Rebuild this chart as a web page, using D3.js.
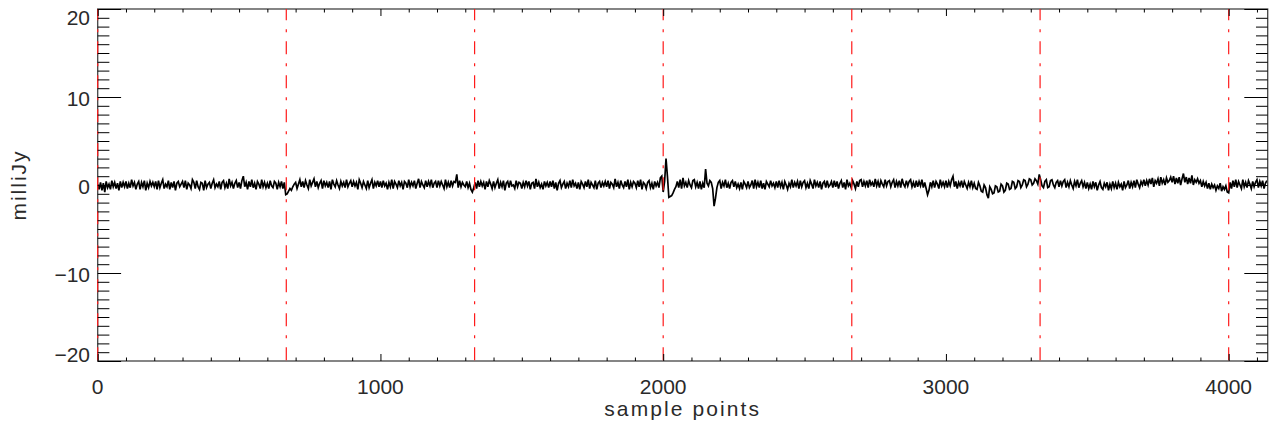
<!DOCTYPE html>
<html>
<head>
<meta charset="utf-8">
<script src="https://cdn.jsdelivr.net/npm/d3@7"></script>
<style>
html,body{margin:0;padding:0;background:#fff;}
svg{display:block;}
text{font-family:"Liberation Sans",Arial,sans-serif;fill:#2a2a2a;}
</style>
</head>
<body>
<svg id="chart" width="1273" height="430"></svg>
<script>
// ---- data ----
const sampleStep = 5; // samples between successive values
const fluxValues = [
 0.1,-0.5,0.3,-0.6,0.2,-0.8,0.4,-0.3,0.1,-0.5,0.5,-0.2,0.3,-0.4,0.2,-0.6,0.4,-0.3,0.3,-0.2,
 0.4,-0.4,0.2,-0.3,0.6,-0.1,0.3,-0.5,0.1,0.4,-0.5,0.3,-0.2,0.5,-0.6,0.2,-0.3,0.4,-0.1,0.3,
 -0.2,0.4,-0.5,0.5,-0.3,0.2,0.6,-0.4,0.1,-0.2,0.5,-0.5,0.3,-0.3,0.4,-0.6,0.2,0.4,-0.2,0.1,
 0.4,-0.3,0.5,-0.5,0.2,0.0,-0.4,0.6,0.3,-0.4,0.5,-0.2,-0.5,0.3,0.2,-0.6,0.5,-0.3,0.1,0.3,
 -0.4,0.2,0.6,-0.3,0.1,-0.2,0.4,-0.5,0.3,0.5,-0.3,0.2,-0.4,0.7,-0.1,0.3,-0.4,0.2,0.5,-0.3,
 0.3,-0.4,0.5,1.0,-0.2,0.3,-0.5,0.4,-0.2,0.6,-0.3,0.2,-0.5,0.4,0.1,-0.4,0.6,-0.2,0.3,-0.3,
 0.2,-0.4,0.5,-0.1,-0.3,0.4,0.2,-0.5,0.3,-0.2,0.4,-0.4,0.3,-1.1,-1.0,-0.7,-0.4,-0.6,-0.2,0.1,
 0.3,-0.4,0.1,0.6,-0.2,0.4,-0.3,0.5,0.0,-0.4,0.6,-0.1,0.3,0.7,-0.2,0.4,-0.3,0.2,0.5,-0.4,
 0.5,-0.1,0.3,-0.3,0.4,-0.5,0.6,0.1,-0.2,0.5,0.0,-0.4,0.4,-0.1,0.3,-0.3,0.6,-0.2,0.2,0.5,
 -0.2,0.4,-0.1,0.3,-0.5,0.6,0.2,-0.3,0.4,0.0,-0.4,0.5,-0.3,0.2,0.6,-0.4,0.3,-0.1,0.5,-0.2,
 0.4,-0.3,0.5,-0.1,0.2,-0.5,0.3,-0.2,0.6,-0.4,0.4,0.1,-0.3,0.5,-0.1,0.3,-0.5,0.4,0.2,-0.3,
 0.6,-0.2,0.3,-0.1,0.5,-0.4,0.2,0.7,-0.3,0.4,0.0,-0.3,0.5,-0.2,0.4,-0.1,0.6,-0.3,0.2,0.4,
 -0.3,0.5,-0.1,0.4,0.0,-0.4,0.6,-0.2,0.3,-0.3,0.5,-0.1,0.4,0.3,1.2,-0.3,0.5,-0.2,0.3,0.0,
 -0.2,0.4,-0.3,0.2,-0.5,-0.8,-0.3,0.3,-0.4,0.5,-0.2,0.4,-0.1,0.3,-0.5,0.4,-0.2,0.5,0.1,-0.4,
 0.4,-0.3,0.2,0.6,-0.4,0.3,-0.2,0.5,-0.6,0.2,0.4,-0.3,0.5,-0.1,0.0,-0.4,0.5,-0.2,0.3,0.2,
 -0.4,0.3,-0.2,0.5,-0.1,0.4,-0.5,0.2,0.3,-0.4,0.7,-0.2,0.3,-0.3,0.1,-0.5,0.4,-0.1,0.3,-0.3,
 0.4,-0.2,0.5,-0.4,0.3,-0.6,0.2,0.5,-0.3,0.1,0.4,-0.4,0.2,-0.2,0.5,-0.3,0.6,-0.1,0.2,-0.4,
 0.3,-0.5,0.4,0.1,-0.3,0.4,-0.2,0.6,-0.4,0.3,0.0,-0.3,0.5,-0.5,0.2,0.4,-0.3,0.3,-0.1,0.4,
 -0.2,0.5,-0.4,0.3,0.1,-0.3,0.7,-0.2,0.3,-0.4,0.5,0.0,-0.3,0.4,-0.2,0.6,-0.5,0.3,-0.2,0.4,
 0.2,-0.3,0.5,-0.2,0.6,-0.5,0.3,0.1,-0.4,0.3,0.5,-0.3,0.2,-0.5,0.4,-0.1,0.3,-0.3,0.8,1.0,
 -0.8,0.4,3.0,1.0,-1.4,-1.3,-1.2,-0.9,-0.5,-0.2,0.4,-0.3,0.6,-0.4,0.8,-0.1,0.3,-0.3,0.5,0.0,
 -0.3,0.5,0.6,-0.2,0.3,-0.4,0.4,-0.5,0.2,-0.3,1.8,0.2,-0.1,0.5,0.3,-0.4,-2.4,-1.5,-0.3,0.3,
 0.5,-0.4,0.3,-0.1,0.6,-0.3,0.2,-0.4,0.3,0.5,-0.2,0.4,-0.3,0.1,-0.4,0.3,-0.5,0.4,0.1,-0.3,
 0.4,-0.3,0.0,0.5,-0.4,0.6,-0.2,0.3,-0.3,0.5,-0.4,0.2,-0.5,0.4,0.1,-0.2,0.5,-0.1,0.2,-0.3,
 0.4,-0.3,0.5,-0.2,0.3,-0.5,0.4,0.0,-0.5,0.2,-0.2,0.6,-0.3,0.3,-0.1,0.4,-0.4,0.5,-0.2,0.3,
 0.5,-0.3,0.2,-0.4,0.5,0.1,-0.4,0.6,-0.1,0.3,-0.3,0.4,-0.5,0.2,0.4,-0.3,0.5,-0.2,0.0,0.4,
 -0.3,0.5,-0.2,0.4,-0.4,0.2,0.5,-0.3,0.3,-0.5,0.6,-0.1,0.2,-0.3,0.5,0.1,-0.4,0.4,-0.2,0.5,
 0.6,-0.2,0.4,-0.1,0.5,-0.3,0.6,0.0,0.3,-0.2,0.7,-0.1,0.4,-0.3,0.5,0.1,-0.2,0.6,-0.1,0.4,
 0.5,-0.2,0.3,0.6,-0.3,0.4,-0.1,0.5,-0.3,0.7,0.1,-0.2,0.5,-0.1,0.4,0.6,-0.2,0.3,-0.3,0.5,
 -0.2,0.4,-0.1,0.6,-0.3,0.3,-0.4,-1.1,-0.6,0.3,-0.2,0.5,-0.3,0.4,0.1,-0.4,0.6,-0.1,0.3,-0.2,
 0.5,-0.3,0.4,-0.1,0.6,1.0,-0.2,0.4,-0.4,0.3,-0.1,0.5,-0.3,0.4,0.0,-0.4,0.3,-0.2,0.5,-0.3,
 0.2,-0.4,-0.5,0.3,-0.1,-0.7,-0.8,0.0,-0.3,-1.1,-1.5,-0.2,-0.5,-1.0,-0.9,-0.1,-0.2,-0.8,-0.7,0.1,
 -0.1,-0.8,-0.6,0.2,0.1,-0.5,-0.4,0.4,0.3,-0.4,-0.2,0.5,0.4,-0.3,0.0,0.6,0.5,-0.2,0.1,0.7,
 0.6,0.0,0.2,0.7,0.5,0.1,1.2,0.6,-0.1,-0.3,0.4,0.6,-0.3,-0.2,0.5,0.6,0.0,-0.3,0.3,0.5,
 -0.2,0.5,-0.1,0.4,0.6,-0.3,0.3,-0.2,0.5,0.0,-0.4,0.4,-0.1,0.6,-0.3,0.2,0.5,-0.2,0.3,-0.4,
 0.3,-0.4,0.1,-0.5,0.4,-0.2,0.3,-0.6,0.0,0.4,-0.3,-0.5,0.2,-0.2,0.3,-0.6,0.1,-0.4,0.4,-0.3,
 0.2,-0.5,0.3,-0.2,0.1,-0.6,0.4,-0.3,0.0,0.5,-0.4,0.3,-0.2,0.5,-0.3,0.6,0.1,-0.3,0.4,0.0,
 0.6,-0.1,0.5,0.0,0.7,0.1,0.8,-0.2,0.5,0.2,0.7,-0.1,0.9,0.2,0.6,0.0,0.8,0.3,0.5,0.9,
 0.3,1.0,0.1,0.8,0.2,0.9,0.0,0.7,1.3,0.3,0.9,0.1,0.8,0.2,1.1,0.0,0.6,0.3,0.7,0.2,
 0.5,-0.2,0.4,-0.1,0.3,-0.4,0.2,-0.5,0.1,-0.3,0.0,-0.6,-0.1,-0.4,0.2,-0.7,-0.2,-0.5,-0.1,-0.8,
 -0.9,0.3,-0.4,0.5,-0.2,0.6,-0.3,0.4,0.0,-0.4,0.6,-0.2,0.3,-0.3,0.5,0.1,-0.4,0.4,-0.2,0.3,
 0.6,-0.3,0.4,-0.1,0.5,-0.4,0.2,0.5
];
const boundaries = [0, 667, 1333, 2000, 2667, 3333, 4000];
const xMajorTicks = [0, 1000, 2000, 3000, 4000];
const yMajorTicks = [-20, -10, 0, 10, 20];
const xTickLabels = ["0", "1000", "2000", "3000", "4000"];
const yTickLabels = ["\u221220", "\u221210", "0", "10", "20"];
const xDomain = [0, 4138];
const yDomain = [-20, 20];
const xTitle = "sample points";
const yTitle = "milliJy";

// ---- layout ----
const L = 97.7, R = 1267.7, T = 9, B = 361;
const svg = d3.select("#chart");
const x = d3.scaleLinear().domain(xDomain).range([L, R]);
const y = d3.scaleLinear().domain(yDomain).range([B, T]);

// data trace
const line = d3.line().x((d, i) => x(i * sampleStep)).y(d => y(d));
svg.append("path").datum(fluxValues)
  .attr("d", line)
  .attr("fill", "none")
  .attr("stroke", "#000")
  .attr("stroke-width", 1.7)
  .attr("stroke-linejoin", "miter");

// frame
svg.append("rect").attr("x", L).attr("y", T).attr("width", R - L).attr("height", B - T)
  .attr("fill", "none").attr("stroke", "#444").attr("stroke-width", 1.3);

// red dash-dot boundary lines
svg.append("g").selectAll("line").data(boundaries).join("line")
  .attr("x1", d => x(d)).attr("x2", d => x(d))
  .attr("y1", T).attr("y2", B)
  .attr("stroke", "#ff1a1a").attr("stroke-width", 1.2)
  .attr("stroke-dasharray", "13,9,3,9")
  .attr("stroke-dashoffset", 1.7);

// ticks via d3 axes
const xMinor = d3.range(0, 4101, 100).filter(v => v % 1000 !== 0);
const yMinor = d3.range(-20, 21, 1).filter(v => v % 10 !== 0);
const majX = 7, minX = 3.5, majY = 23.4, minY = 11.7;

function styleAxis(g) {
  g.select(".domain").remove();
  g.selectAll(".tick line").attr("stroke", "#000").attr("stroke-width", 1);
  g.selectAll(".tick text").remove();
}
svg.append("g").attr("transform", `translate(0,${B})`)
  .call(d3.axisBottom(x).tickValues(xMajorTicks).tickSize(-majX)).call(styleAxis);
svg.append("g").attr("transform", `translate(0,${B})`)
  .call(d3.axisBottom(x).tickValues(xMinor).tickSize(-minX)).call(styleAxis);
svg.append("g").attr("transform", `translate(0,${T})`)
  .call(d3.axisTop(x).tickValues(xMajorTicks).tickSize(-majX)).call(styleAxis);
svg.append("g").attr("transform", `translate(0,${T})`)
  .call(d3.axisTop(x).tickValues(xMinor).tickSize(-minX)).call(styleAxis);
svg.append("g").attr("transform", `translate(${L},0)`)
  .call(d3.axisLeft(y).tickValues(yMajorTicks).tickSize(-majY)).call(styleAxis);
svg.append("g").attr("transform", `translate(${L},0)`)
  .call(d3.axisLeft(y).tickValues(yMinor).tickSize(-minY)).call(styleAxis);
svg.append("g").attr("transform", `translate(${R},0)`)
  .call(d3.axisRight(y).tickValues(yMajorTicks).tickSize(-majY)).call(styleAxis);
svg.append("g").attr("transform", `translate(${R},0)`)
  .call(d3.axisRight(y).tickValues(yMinor).tickSize(-minY)).call(styleAxis);

// tick labels
const fs = 21;
svg.append("g").selectAll("text").data(xMajorTicks).join("text")
  .attr("x", d => x(d)).attr("y", 394)
  .attr("text-anchor", "middle").attr("font-size", fs)
  .text((d, i) => xTickLabels[i]);
svg.append("g").selectAll("text").data(yMajorTicks).join("text")
  .attr("x", 90)
  .attr("y", d => {
    let c = y(d) + 1.5;
    c = Math.max(T + 8.2, Math.min(B - 6.8, c));
    return c + 7.5;
  })
  .attr("text-anchor", "end").attr("font-size", fs)
  .text((d, i) => yTickLabels[i]);

// axis titles
svg.append("text").attr("x", (L + R) / 2).attr("y", 416)
  .attr("text-anchor", "middle").attr("font-size", fs)
  .attr("letter-spacing", 2.1).text(xTitle);
svg.append("text").attr("transform", "translate(26,185) rotate(-90)")
  .attr("text-anchor", "middle").attr("font-size", fs)
  .attr("letter-spacing", 2).text(yTitle);
</script>
</body>
</html>
